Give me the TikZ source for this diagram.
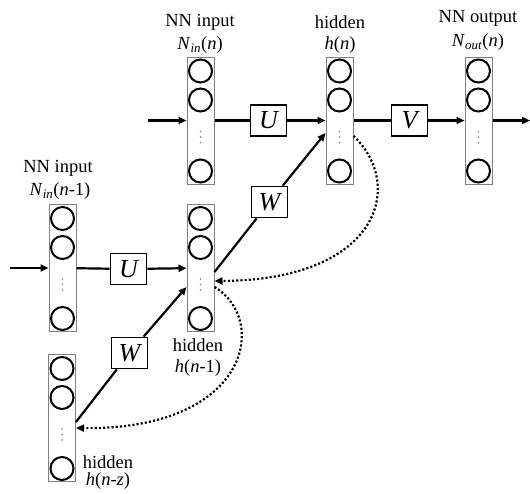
\documentclass[tikz,border=0pt]{standalone}
\usepackage{fontspec}
\setmainfont{Liberation Serif}
\usetikzlibrary{arrows.meta}

\tikzset{
  layer/.style={draw=gray, line width=1pt, minimum width=27pt, minimum height=127pt, inner sep=0pt},
  neuron/.style={line width=2pt},
  wbox/.style={draw, line width=1.8pt, minimum width=36pt, minimum height=31pt, inner sep=0pt,
    font=\fontsize{26}{26}\selectfont\itshape},
  lbl/.style={font=\fontsize{18.5}{20}\selectfont, inner sep=0pt},
  conn/.style={line width=2.2pt},
  recur/.style={line width=2.2pt, dash pattern=on 2.1pt off 2.1pt},
  >={Triangle[length=8pt,width=7pt]}
}

% circles and dots of one layer
\newcommand{\neurons}[1]{%
  \foreach \dy in {49.5,20.5,-50.5} {\draw[neuron] ([yshift=\dy pt]#1.center) circle (11.5pt);}
  \foreach \dy in {-11,-16.5,-22} {\fill[gray] ([yshift=\dy pt]#1.center) circle (0.8pt);}
}

\begin{document}
\begin{tikzpicture}[x=1pt,y=-1pt]
\useasboundingbox (0,0) rectangle (530,493);

% Layers
\node[layer] (inN) at (200.5,120.5) {};
\node[layer] (hN) at (339.5,120.5) {};
\node[layer] (outN) at (478.5,120.5) {};
\node[layer] (inP) at (62.5,268) {};
\node[layer] (hP) at (200.5,268) {};
\node[layer] (hZ) at (62,418) {};
\foreach \l in {inN,hN,outN,inP,hP,hZ} {\neurons{\l}}

% Weights
\node[wbox] (Ua) at (268.5,120.5) {U};
\node[wbox] (Va) at (409.5,120.5) {V};
\node[wbox] (Ub) at (128.5,269) {U};
\node[wbox] (Wa) at (269.5,202) {W};
\node[wbox] (Wb) at (129.5,353) {W};

% Time n
\coordinate (srcN) at (148,120.5);
\coordinate (sinkN) at (530,120.5);
\draw[conn,->] (srcN) -- (inN);
\draw[conn] (inN) -- (Ua);
\draw[conn,->] (Ua) -- (hN);
\draw[conn] (hN) -- (Va);
\draw[conn,->] (Va) -- (outN);
\draw[conn,->] (outN) -- (sinkN);

% Time n-1
\coordinate (srcP) at (10,268);
\draw[conn,->] (srcP) -- (inP);
\draw[conn] (inP) -- (Ub);
\draw[conn,->] (Ub) -- (hP);

% Hidden to hidden
\draw[conn] ([yshift=-4pt]hP.east) -- (Wa);
\draw[conn,->] (Wa) -- ([yshift=-12.5pt]hN.west);
\draw[conn] ([yshift=-4pt]hZ.east) -- (Wb);
\draw[conn,->] (Wb) -- ([yshift=-19pt]hP.west);

% Recurrence
\draw[recur,->] ([yshift=-15.5pt]hN.east) .. controls +(52,49) and +(165,-1) .. ([yshift=-13pt]hP.east);
\draw[recur,->] ([yshift=-19pt]hP.east) .. controls +(55,33) and +(173,2) .. ([yshift=-10pt]hZ.east);

% Labels
\node[lbl] (tInN) at (200,22) {NN input};
\node[lbl] (vInN) at (200,45) {\textit{N}\textsubscript{\textit{in}}(\textit{n})};
\node[lbl] (tHN) at (340,22) {hidden};
\node[lbl] (vHN) at (340,45) {\textit{h}(\textit{n})};
\node[lbl] (tOutN) at (478,18) {NN output};
\node[lbl] (vOutN) at (478,42) {\textit{N}\textsubscript{\textit{out}}(\textit{n})};
\node[lbl] (tInP) at (58,168) {NN input};
\node[lbl] (vInP) at (60,191) {\textit{N}\textsubscript{\textit{in}}(\textit{n}-1)};
\node[lbl] (tHP) at (198,345) {hidden};
\node[lbl] (vHP) at (198,368) {\textit{h}(\textit{n}-1)};
\node[lbl] (tHZ) at (108,462) {hidden};
\node[lbl] (vHZ) at (108,481) {\textit{h}(\textit{n}-\textit{z})};
\end{tikzpicture}
\end{document}
